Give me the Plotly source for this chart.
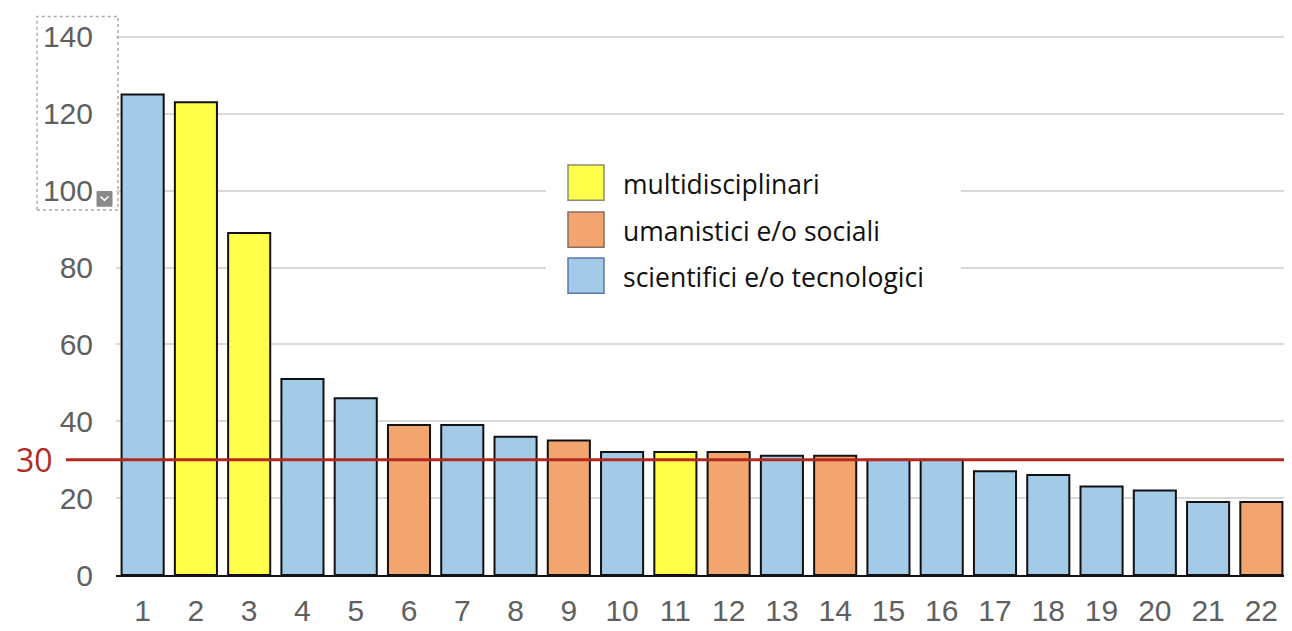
import plotly.graph_objects as go

categories = [str(i) for i in range(1, 23)]
values = [125, 123, 89, 51, 46, 39, 39, 36, 35, 32, 32, 32, 31, 31, 30, 30, 27, 26, 23, 22, 19, 19]
groups = ["S", "M", "M", "S", "S", "U", "S", "S", "U", "S", "M", "U", "S", "U",
          "S", "S", "S", "S", "S", "S", "S", "U"]
group_labels = {"M": "multidisciplinari", "U": "umanistici e/o sociali", "S": "scientifici e/o tecnologici"}
legend_order = ["M", "U", "S"]
threshold = 30
y_ticks = [0, 20, 40, 60, 80, 100, 120, 140]

colors = {"M": "#FFFF4A", "U": "#F2A56E", "S": "#A3CBE8"}
legend_border = {"M": "#8c8c70", "U": "#8a6e60", "S": "#5a78a8"}

W, H = 1292, 631
OFF = 8  # page body margin
# plot area in screen pixels
SL, SR, ST, SB = 116, 1288, 26, 578
L, R, T, B = SL - OFF, W - (SR - OFF), ST - OFF, H - (SB - OFF)
PW, PH = SR - SL, SB - ST


def px(x):
    return (x - SL) / PW


def py(y):
    return (SB - y) / PH


fig = go.Figure()
fig.add_trace(go.Bar(
    x=categories, y=values,
    marker=dict(color=[colors[g] for g in groups], line=dict(color="#111111", width=2)),
    width=0.79, showlegend=False,
))

shapes = []
annotations = []

# threshold line
shapes.append(dict(type="line", xref="paper", yref="y", x0=px(66), x1=px(1300), y0=threshold, y1=threshold,
                   line=dict(color="#B3291F", width=3), layer="above"))
annotations.append(dict(xref="paper", yref="y", x=px(55), y=threshold, text=str(threshold), showarrow=False,
                        xanchor="right", yanchor="middle",
                        font=dict(family="Open Sans, sans-serif", size=32, color="#B3291F")))

# legend box (white background hiding gridlines)
shapes.append(dict(type="rect", xref="paper", yref="paper", x0=px(546), x1=px(961), y0=py(305), y1=py(140),
                   fillcolor="white", line=dict(width=0), layer="above"))
sq_top = [159, 207, 254]
for i, g in enumerate(legend_order):
    t = sq_top[i]
    shapes.append(dict(type="rect", xref="paper", yref="paper", x0=px(568), x1=px(604), y0=py(t + 36), y1=py(t),
                       fillcolor=colors[g], line=dict(color=legend_border[g], width=1.5), layer="above"))
    annotations.append(dict(xref="paper", yref="paper", x=px(621), y=py(t + 19), text=group_labels[g],
                            showarrow=False, xanchor="left", yanchor="middle",
                            font=dict(family="Open Sans, sans-serif", size=26.5, color="#111111")))

# dotted selection box and dropdown icon (as in the reference screenshot)
shapes.append(dict(type="rect", xref="paper", yref="paper", x0=px(37), x1=px(118), y0=py(205), y1=py(7),
                   line=dict(color="#aaaaaa", width=1.5, dash="dot"), layer="above"))
shapes.append(dict(type="rect", xref="paper", yref="paper", x0=px(97), x1=px(112), y0=py(201), y1=py(186),
                   fillcolor="#8a8a8a", line=dict(color="#8a8a8a", width=1), layer="above"))
shapes.append(dict(type="path", xref="paper", yref="paper",
                   path=f"M {px(100.5)} {py(191)} L {px(104.5)} {py(195)} L {px(108.5)} {py(191)}",
                   line=dict(color="white", width=1.5), layer="above"))

fig.update_layout(
    width=W, height=H,
    margin=dict(l=L, r=R, t=T, b=B),
    plot_bgcolor="white", paper_bgcolor="white",
    shapes=shapes, annotations=annotations,
    xaxis=dict(
        type="category", range=[-0.5, 21.5],
        showline=True, linecolor="#111111", linewidth=2,
        showgrid=False, ticks="", ticklabelstandoff=8,
        tickfont=dict(family="Liberation Sans, Arial", size=30, color="#5f5f5f"),
    ),
    yaxis=dict(
        range=[0, 140.5], tickvals=y_ticks,
        showgrid=True, gridcolor="#d9d9d9", gridwidth=1.5,
        zeroline=False, showline=False, ticks="", ticklabelstandoff=22,
        tickfont=dict(family="Liberation Sans, Arial", size=30, color="#5f5f5f"),
    ),
)

fig.write_html("out.html")
